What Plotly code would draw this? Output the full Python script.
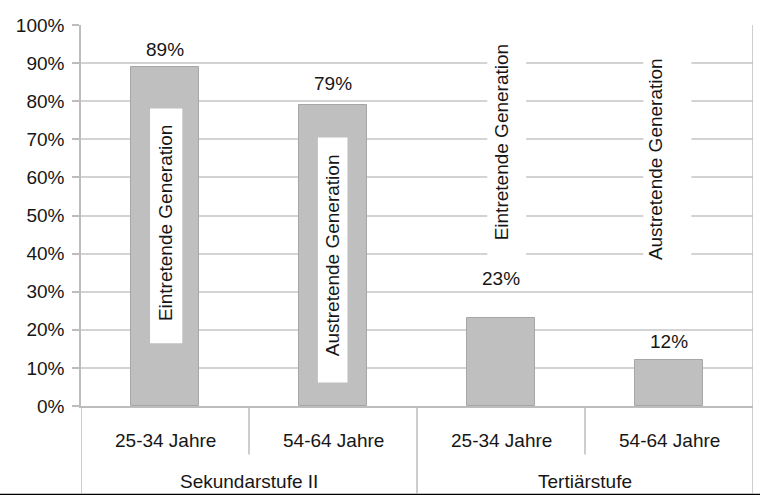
import plotly.graph_objects as go

# Two-level categories: age band within education level
age_groups = ["25-34 Jahre", "54-64 Jahre", "25-34 Jahre", "54-64 Jahre"]
levels = ["Sekundarstufe II", "Tertiärstufe"]
shares = [0.89, 0.79, 0.23, 0.12]
generation_labels = ["Eintretende Generation", "Austretende Generation",
                     "Eintretende Generation", "Austretende Generation"]
y_ticks = [0.0, 0.1, 0.2, 0.3, 0.4, 0.5, 0.6, 0.7, 0.8, 0.9, 1.0]

FONT = "Liberation Sans, Arial, sans-serif"
TXT = "#161616"
GRID = "#d3d3d3"
AXIS = "#bdbdbd"

pos = list(range(len(shares)))

fig = go.Figure()
fig.add_trace(go.Bar(
    x=pos, y=shares, width=0.405,
    marker=dict(color="#bfbfbf", line=dict(color="#a6a6a6", width=1)),
    hoverinfo="skip", showlegend=False,
))

annotations = []
shapes = []

# value labels above the bars (pixel lift per bar)
lift = [17, 22, 40, 19]
for i, v in enumerate(shares):
    annotations.append(dict(
        x=i, y=v, xref="x", yref="y", text=f"{round(v * 100)}%",
        showarrow=False, yanchor="middle", yshift=lift[i],
        font=dict(family=FONT, size=19, color=TXT)))

# white panels behind the vertical generation labels
panels = [(-0.089, 0.103, 0.165, 0.781),
          (0.910, 1.086, 0.062, 0.705),
          (1.918, 2.150, 0.377, 0.980),
          (2.847, 3.133, 0.336, 0.955)]
for x0, x1, y0, y1 in panels:
    shapes.append(dict(type="rect", xref="x", yref="y", x0=x0, x1=x1,
                       y0=y0, y1=y1, fillcolor="white",
                       line=dict(width=0), layer="above"))

label_pos = [(0.0, 0.48), (0.995, 0.396), (2.0, 0.692), (2.919, 0.649)]
for (lx, ly), txt in zip(label_pos, generation_labels):
    annotations.append(dict(
        x=lx, y=ly, xref="x", yref="y", text=txt, textangle=-90,
        showarrow=False, xanchor="center", yanchor="middle",
        font=dict(family=FONT, size=19, color=TXT)))

# category labels below the axis
for i, cat in enumerate(age_groups):
    annotations.append(dict(
        x=i, y=-0.09, xref="x", yref="paper", text=cat, showarrow=False,
        yanchor="middle", font=dict(family=FONT, size=19, color=TXT)))
for g, lvl in enumerate(levels):
    annotations.append(dict(
        x=2 * g + 0.5, y=-0.2315, xref="x", yref="paper", text=lvl,
        showarrow=False, yanchor="bottom",
        font=dict(family=FONT, size=19, color=TXT)))

# separators of the category table
for xb, ybot in [(-0.5, -0.229), (0.5, -0.1276), (1.5, -0.229),
                 (2.5, -0.1276), (3.5, -0.229)]:
    shapes.append(dict(type="line", xref="x", yref="paper", x0=xb, x1=xb,
                       y0=0, y1=ybot, line=dict(color=AXIS, width=1.5)))
shapes.append(dict(type="line", xref="x", yref="paper", x0=3.5, x1=3.5,
                   y0=0, y1=1, line=dict(color=AXIS, width=1.5)))
# dark rule along the bottom edge
shapes.append(dict(type="line", xref="paper", yref="paper",
                   x0=-0.2, x1=1.1, y0=-0.2335, y1=-0.2335,
                   line=dict(color="#000000", width=2.5)))

fig.update_layout(
    width=760, height=495,
    margin=dict(l=81, r=7.3, t=24.7, b=89.3),
    paper_bgcolor="white", plot_bgcolor="white",
    annotations=annotations, shapes=shapes,
    xaxis=dict(range=[-0.5, 3.5], showticklabels=False, showgrid=False,
               zeroline=False, showline=True, linecolor=AXIS, linewidth=1.5,
               fixedrange=True),
    yaxis=dict(range=[0, 1], tickvals=y_ticks, tickformat=".0%",
               showgrid=True, gridcolor=GRID, gridwidth=1.5,
               zeroline=False, showline=True, linecolor=AXIS, linewidth=1.5,
               ticks="outside", ticklen=7, tickcolor=AXIS, tickwidth=1.5,
               ticklabelstandoff=4,
               tickfont=dict(family=FONT, size=19, color=TXT),
               fixedrange=True),
    bargap=0,
)

fig.write_html("out.html")
